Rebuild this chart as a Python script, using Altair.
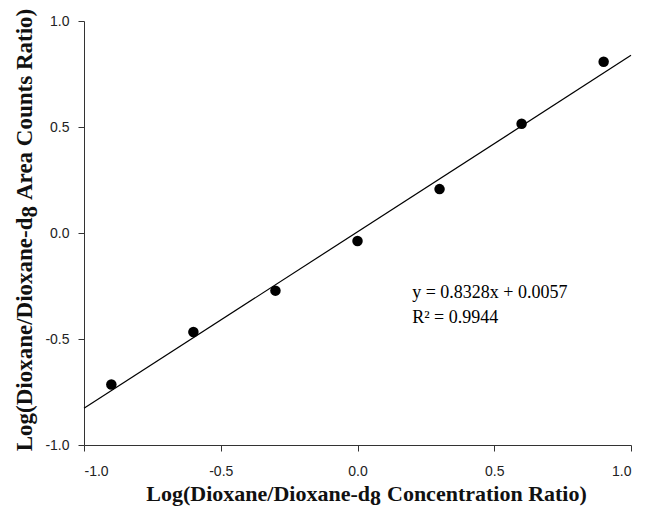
import altair as alt
import pandas as pd

# Data
conc_ratio = [-0.9, -0.6, -0.3, 0.0, 0.3, 0.6, 0.9]
area_ratio = [-0.715, -0.467, -0.272, -0.038, 0.207, 0.515, 0.808]

trend_x = [-1.0, 1.0]
trend_y = [-0.827, 0.838]

eq_lines = ["y = 0.8328x + 0.0057", "R\u00b2 = 0.9944"]
eq_x = [0.2, 0.2]
eq_y = [-0.285, -0.40]

ticks = [-1.0, -0.5, 0.0, 0.5, 1.0]

x_title_parts = ["Log(Dioxane/Dioxane-d", "8", "Concentration Ratio)"]
y_title_parts = ["Log(Dioxane/Dioxane-d", "8", "Area Counts Ratio)"]

pts = pd.DataFrame({"x": conc_ratio, "y": area_ratio})
trend = pd.DataFrame({"x": trend_x, "y": trend_y})
eq = pd.DataFrame({"x": eq_x, "y": eq_y, "t": eq_lines})

xscale = alt.Scale(domain=[-1, 1], nice=False, zero=False)
yscale = alt.Scale(domain=[-1, 1], nice=False, zero=False)

lab = "replace(datum.label, '\u2212', '-')"
xaxis = alt.Axis(title="", values=ticks, format=".1f", grid=False, labelPadding=13, labelExpr=lab)
yaxis = alt.Axis(title="", values=ticks, format=".1f", grid=False, labelPadding=9, labelExpr=lab)

line = alt.Chart(trend).mark_line(color="black", strokeWidth=1.2).encode(
    x=alt.X("x:Q", scale=xscale, axis=xaxis),
    y=alt.Y("y:Q", scale=yscale, axis=yaxis),
)

points = alt.Chart(pts).mark_circle(color="black", opacity=1, size=110).encode(
    x=alt.X("x:Q", scale=xscale),
    y=alt.Y("y:Q", scale=yscale),
)

text = alt.Chart(eq).mark_text(
    align="left", baseline="middle", font="Liberation Serif", fontSize=18, color="black"
).encode(
    x=alt.X("x:Q", scale=xscale),
    y=alt.Y("y:Q", scale=yscale),
    text="t:N",
)


def piece(s, px, py, align, size, angle=0):
    kw = dict(align=align, baseline="alphabetic", font="Liberation Serif",
              fontWeight="bold", fontSize=size, color="#111111")
    if angle:
        kw["angle"] = angle
    return alt.Chart(pd.DataFrame({"t": [s]})).mark_text(**kw).encode(
        x=alt.value(px), y=alt.value(py), text="t:N"
    )


XS = 22
x_title = [
    piece(x_title_parts[0], 286, 480, "right", XS),
    piece(x_title_parts[1], 286, 484, "left", XS),
    piece(x_title_parts[2], 303, 480, "left", XS),
]
YS = 23
y_title = [
    piece(y_title_parts[0], -52, 196.5, "right", YS, 270),
    piece(y_title_parts[1], -47, 196.5, "left", YS, 270),
    piece(y_title_parts[2], -52, 179, "left", YS, 270),
]

chart = alt.layer(line, points, text, *x_title, *y_title).properties(
    width=547, height=424,
    autosize=alt.AutoSizeParams(type="none"),
    padding={"left": 76, "top": 13, "right": 10, "bottom": 65},
).configure_view(stroke=None).configure_axis(
    domainColor="#333333", tickColor="#333333", tickSize=6,
    labelFont="Liberation Sans", labelFontSize=14, labelColor="#222222",
)

chart.save("out.html", embed_options={"renderer": "svg", "actions": False})
